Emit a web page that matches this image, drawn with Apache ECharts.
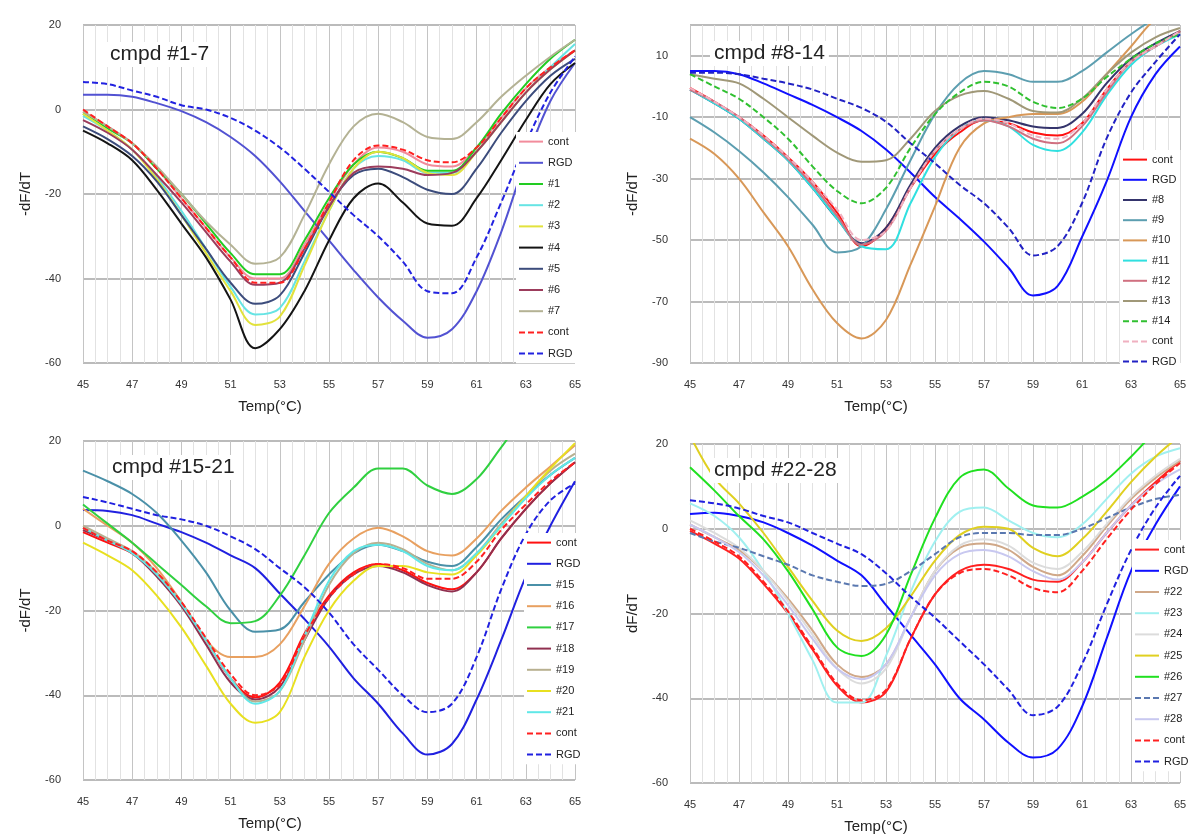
<!DOCTYPE html>
<html lang="en">
<head>
    <meta charset="utf-8">
    <title>cmpd dF/dT</title>
    <script src="https://cdn.jsdelivr.net/npm/echarts@6/dist/echarts.min.js"></script>
    <style>
        html, body { margin: 0; padding: 0; background: #fff; }
        #main { width: 1201px; height: 839px; }
    </style>
</head>
<body>
    <div id="main"></div>
    <script>
        // temperature points (deg C)
        var temps = [45, 46, 47, 48, 49, 50, 51, 52, 53, 54, 55, 56, 57, 58, 59, 60, 61, 62, 63, 64, 65];

        // panel 1 : cmpd #1-7
        var p1Cont  = [-0.5, -4, -8, -14, -21, -28, -35, -40, -40, -32, -22, -13, -9, -10, -13, -13.5, -9, -2, 5, 10, 14];
        var p1Rgd   = [3.5, 3.5, 3, 1.5, -0.4, -3, -6.5, -11, -17, -24, -31, -38, -44.5, -50, -54, -52, -43, -29, -12, 2, 11];
        var p1C1    = [-1, -4.5, -8, -14, -20, -27, -34, -39, -39, -31, -21, -13, -10, -11.5, -14.5, -14.5, -9, -1, 6, 12, 16.5];
        var p1C2    = [-1.5, -5, -9.5, -16, -24, -33, -42, -48.5, -47, -36, -24, -14, -11, -12, -15, -15, -10, -3, 4, 10, 15.5];
        var p1C3    = [-1, -5, -9.5, -16.5, -25, -34, -43, -51, -49, -37, -24, -14, -10, -11.5, -15, -15.5, -10, -3, 4, 9.5, 14];
        var p1C4    = [-5, -8, -12, -19, -27, -35, -45, -56.5, -52, -43, -31, -21, -17.5, -22, -27, -27.5, -21, -12, -2.5, 6, 11];
        var p1C5    = [-4, -7, -11, -17, -25, -33, -41, -46, -44, -34, -23, -15.5, -14, -16, -19, -20, -14, -5.5, 2, 8, 12];
        var p1C6    = [-2.5, -5.5, -9.5, -15.5, -22, -29, -36, -41.5, -41, -33, -23, -15, -13.5, -14, -15.5, -15, -10, -3, 4, 9.5, 14];
        var p1C7    = [-0.5, -4, -8, -13.5, -20, -26.5, -32, -36.5, -35, -25, -13, -4, -1, -3, -6.5, -7, -3, 3, 8, 12.5, 16.5];
        var p1ContB = [0, -4, -8, -14, -21, -28, -35, -41, -41, -33, -22, -12, -8.5, -9.5, -12, -12.5, -9, -2, 5, 10, 14];
        var p1RgdB  = [6.5, 6, 4.5, 3, 1, 0, -2, -5, -9, -14, -19.5, -25, -30, -36, -43, -43.5, -35, -22, -8, 4, 12.5];

        // panel 2 : cmpd #8-14
        var p2Cont  = [-0.5, -5, -10, -16, -23, -31, -41, -52, -46, -33, -22, -15, -11, -12, -15, -16, -12, -1, 8, 13, 18];
        var p2Rgd   = [5, 5, 4, 1, -2.5, -6, -10, -14.5, -20.5, -28, -36, -43, -50.5, -59, -68, -65, -49, -31, -10, 4, 13];
        var p2C8    = [-1, -5.5, -10.5, -17, -24, -33, -43, -51, -46, -32, -20, -13, -10, -11, -13, -13.5, -9, 1, 9, 14, 18];
        var p2C9    = [-10, -15, -21, -28, -36, -45, -54, -52, -40, -24, -9, 1, 5, 4, 1.5, 1.5, 5, 11, 17, 22, 24];
        var p2C10   = [-17, -22, -30, -41, -52, -66, -77, -82, -76, -58, -39, -20, -12, -10, -9, -9, -5, 4, 13, 22, 26];
        var p2C11   = [-1, -5.5, -10.5, -17, -24, -33, -43, -52, -53, -38, -23, -14, -11, -13, -19, -21, -15, -3, 7, 13, 17];
        var p2C12   = [-1, -5, -10, -16.5, -23.5, -32, -42, -51.5, -47, -33, -21, -14, -11, -13, -17, -18.5, -13, -2, 8, 13, 18];
        var p2C13   = [4, 2.5, 1, -4, -10, -16, -21.5, -24.5, -24, -17, -8, -3, -1.5, -4, -8, -8.5, -4, 4, 11, 16, 19];
        var p2C14   = [4, 0, -4, -10, -17, -26, -34, -38, -33, -20, -9, -2, 1.5, 0, -5, -7, -4, 3, 9, 14, 17];
        var p2ContB = [-0.5, -5, -10, -16, -23, -31, -40, -50, -47, -33, -21, -14, -10.5, -12, -16, -17, -12, -1, 8, 13, 18];
        var p2RgdB  = [4.5, 4.5, 4, 2.5, 1, -1, -4, -7, -11.5, -18.5, -25, -32, -38, -46, -55, -52, -38, -17, -2, 8, 17];

        // panel 3 : cmpd #15-21
        var p3Cont  = [-1.5, -4, -6.5, -11.5, -18.5, -27, -36, -40.5, -37, -25.5, -16.5, -11, -9, -10.5, -13.5, -15, -11, -3, 4, 10, 15];
        var p3Rgd   = [3.7, 3.5, 2.5, 0.5, -1.5, -4, -7, -10, -16, -22, -28.5, -36, -42, -49, -54, -51.5, -41, -27, -12, 0, 10.5];
        var p3C15   = [13, 10.5, 7.5, 3, -3.5, -11, -20, -25, -24.5, -18, -11.5, -6.5, -4.5, -6, -8.5, -9.5, -5, 1.5, 7, 12, 16];
        var p3C16   = [4, 0, -4, -10, -18, -27, -31, -31, -28, -19, -9, -3, -0.5, -2.5, -6, -7, -3, 3.5, 9, 14, 19];
        var p3C17   = [5, 0.5, -4, -9, -14, -19, -23, -22.5, -16.5, -7, 3, 9, 13.5, 13.5, 9.5, 7.5, 11, 18.5, 26, 30, 34];
        var p3C18   = [-1, -3.5, -6.5, -12, -19, -28, -37, -41, -38, -27, -17, -11.5, -9.5, -11, -14, -15.5, -11, -3, 4, 10, 15];
        var p3C19   = [0, -3, -6, -11, -18, -27, -36, -41.5, -39, -27, -14, -6.5, -4, -5.5, -9, -10.5, -6.5, 0.5, 7, 13, 17];
        var p3C20   = [-4, -7, -10.5, -16.5, -24, -33, -42, -46.5, -44, -31, -20, -13, -9.5, -9.5, -11, -11.5, -7, 0, 7, 13.5, 19.5];
        var p3C21   = [-0.5, -3.5, -6.5, -11.5, -18.5, -27, -36, -42, -39, -26, -13, -6, -4.5, -6, -9.5, -10.5, -6.5, 0, 6.5, 12, 16];
        var p3ContB = [-0.5, -3.5, -6, -11, -18, -26.5, -35, -40, -37.5, -26, -17, -11.5, -9, -10, -12.5, -12.5, -8.5, -1, 5, 10.5, 15];
        var p3RgdB  = [6.8, 5.5, 4, 2.5, 1.5, 0, -2.5, -5.5, -10, -14.5, -20.5, -28, -34, -40, -44, -42, -31, -15, -2, 6, 10];

        // panel 4 : cmpd #22-28
        var p4Cont  = [-0.5, -3.5, -7, -13, -20, -28.5, -37, -41, -38.5, -26, -15.5, -10, -8.5, -9.5, -12, -12.5, -8, -1, 5.5, 11, 16];
        var p4Rgd   = [3.5, 3.8, 3, 1.5, -1, -4, -7.5, -11, -18, -25, -32, -40, -45, -50.5, -54, -52, -42, -26, -10, 1, 10];
        var p4C22   = [1, -2, -5, -10, -16.5, -24, -32, -35, -32, -21, -10, -4.5, -3.5, -5, -9, -11, -6.5, 0.5, 7, 12, 16];
        var p4C23   = [6, 3, -2, -10, -20, -31, -41, -41, -30, -15, -3, 4, 5, 2, -1, -2, 1, 7, 13, 17, 19];
        var p4C24   = [2, -1, -4.5, -10, -17, -25, -33, -36.5, -33, -21, -10, -4, -2.5, -4, -8, -9.5, -5.5, 1, 7.5, 12.5, 16.5];
        var p4C25   = [22, 12, 6, -1, -9, -17, -24, -26.5, -23.5, -16, -7.5, -1.5, 0.5, 0, -4.5, -6.5, -2.5, 4, 11, 17, 22];
        var p4C26   = [14.5, 9, 3, -2.5, -10, -19, -28, -30, -25, -11, 2.5, 12, 14, 9.5, 5.5, 5, 7.5, 11.5, 17, 23, 28];
        var p4C27   = [-1, -3, -4.5, -6.5, -8.5, -11, -12.5, -13.5, -13, -10, -6, -2, -1, -1, -1.5, -1.5, 0, 2.5, 5, 7, 8];
        var p4C28   = [1, -2, -5.5, -11, -18, -26, -33, -35.5, -32, -21, -11, -6, -5, -6.5, -10, -12, -8, -1, 5.5, 10.5, 14];
        var p4ContB = [0, -3, -6.5, -12.5, -19.5, -28, -36.5, -40.5, -38, -26, -15.5, -10.5, -9.5, -11, -14, -15, -10, -2.5, 4.5, 10.5, 15.5];
        var p4RgdB  = [6.7, 6, 4.8, 3, 1.5, -1, -3.5, -6, -10.5, -16, -21, -26.5, -32, -38, -44, -42, -32, -18, -5, 5, 12.5];

        var panels = [
            { title: 'cmpd #1-7', yName: '-dF/dT', yMin: -60, yMax: 20, lines: [
                ['cont', p1Cont, '#f28c9c', 0], ['RGD', p1Rgd, '#5252d2', 0],
                ['#1', p1C1, '#22cc22', 0], ['#2', p1C2, '#66e4e4', 0],
                ['#3', p1C3, '#e2e23c', 0], ['#4', p1C4, '#141414', 0],
                ['#5', p1C5, '#3c4c7c', 0], ['#6', p1C6, '#9c3c5c', 0],
                ['#7', p1C7, '#b4b294', 0], ['cont', p1ContB, '#ff2020', 1],
                ['RGD', p1RgdB, '#2222e0', 1]] },
            { title: 'cmpd #8-14', yName: '-dF/dT', yMin: -90, yMax: 20, lines: [
                ['cont', p2Cont, '#ff1010', 0], ['RGD', p2Rgd, '#1010ff', 0],
                ['#8', p2C8, '#34346c', 0], ['#9', p2C9, '#5c9eb0', 0],
                ['#10', p2C10, '#d89858', 0], ['#11', p2C11, '#30e0e0', 0],
                ['#12', p2C12, '#d07080', 0], ['#13', p2C13, '#a09878', 0],
                ['#14', p2C14, '#30c030', 1], ['cont', p2ContB, '#f0b0c0', 1],
                ['RGD', p2RgdB, '#2222c4', 1]] },
            { title: 'cmpd #15-21', yName: '-dF/dT', yMin: -60, yMax: 20, lines: [
                ['cont', p3Cont, '#ff1010', 0], ['RGD', p3Rgd, '#2020e0', 0],
                ['#15', p3C15, '#4a90a8', 0], ['#16', p3C16, '#e8a060', 0],
                ['#17', p3C17, '#30d040', 0], ['#18', p3C18, '#903050', 0],
                ['#19', p3C19, '#b8b090', 0], ['#20', p3C20, '#e8e020', 0],
                ['#21', p3C21, '#60e8e8', 0], ['cont', p3ContB, '#ff2020', 1],
                ['RGD', p3RgdB, '#2020e0', 1]] },
            { title: 'cmpd #22-28', yName: 'dF/dT', yMin: -60, yMax: 20, lines: [
                ['cont', p4Cont, '#ff2020', 0], ['RGD', p4Rgd, '#1010ff', 0],
                ['#22', p4C22, '#d0a888', 0], ['#23', p4C23, '#a0f0f0', 0],
                ['#24', p4C24, '#dcdcdc', 0], ['#25', p4C25, '#e0d020', 0],
                ['#26', p4C26, '#20e020', 0], ['#27', p4C27, '#5a78b0', 1],
                ['#28', p4C28, '#c8c8f0', 0], ['cont', p4ContB, '#ff2020', 1],
                ['RGD', p4RgdB, '#2020e0', 1]] }
        ];

        // layout of the four plot areas
        var boxes = [
            { left: 83, top: 25, width: 492, height: 338, legX: 516, legY: 132, gap: 7, titleX: 106, titleY: 42 },
            { left: 690, top: 25, width: 490, height: 338, legX: 1120, legY: 150, gap: 6, titleX: 710, titleY: 41 },
            { left: 83, top: 441, width: 492, height: 339, legX: 524, legY: 533, gap: 7, titleX: 108, titleY: 455 },
            { left: 690, top: 444, width: 490, height: 339, legX: 1132, legY: 540, gap: 7, titleX: 710, titleY: 458 }
        ];

        var font = 'Liberation Sans, Arial, sans-serif';
        var grids = [], xAxes = [], yAxes = [], series = [], legends = [], titles = [];

        panels.forEach(function (p, k) {
            var b = boxes[k];
            grids.push({ left: b.left, top: b.top, width: b.width, height: b.height });
            xAxes.push({
                type: 'value', gridIndex: k, min: 45, max: 65, interval: 2,
                name: 'Temp(\u00b0C)', nameLocation: 'middle', nameGap: 36,
                nameTextStyle: { fontFamily: font, fontSize: 15, color: '#222', padding: [0, 118, 0, 0] },
                axisLine: { show: false, onZero: false },
                axisTick: { show: false },
                axisLabel: { fontFamily: font, fontSize: 11, color: '#333', margin: 16 },
                splitLine: { show: true, lineStyle: { color: '#c4c4c4' } },
                minorTick: { show: false, splitNumber: 4 },
                minorSplitLine: { show: true, lineStyle: { color: '#e2e2e2' } }
            });
            // ticks counted from min every 20 (panel 2 starts at -90)
            yAxes.push({
                type: 'value', gridIndex: k, min: p.yMin, max: p.yMax, interval: 20,
                name: p.yName, nameLocation: 'middle', nameGap: 50, nameRotate: 90,
                nameTextStyle: { fontFamily: font, fontSize: 15, color: '#222' },
                axisLine: { show: false, onZero: false },
                axisTick: { show: false },
                axisLabel: {
                    fontFamily: font, fontSize: 11, color: '#333', margin: 22,
                    formatter: function (v) {
                        return Math.round(v - p.yMin) % 20 === 0 ? String(v) : '';
                    }
                },
                splitLine: { show: true, lineStyle: { color: '#a4a4a4', width: 1.5 } }
            });
            var names = [];
            p.lines.forEach(function (l, j) {
                var id = l[0] + '@' + k + '_' + j;
                names.push(id);
                series.push({
                    name: id, type: 'line', xAxisIndex: k, yAxisIndex: k,
                    data: temps.map(function (t, i) { return [t, l[1][i]]; }),
                    smooth: 0.35, symbol: 'none', clip: true,
                    lineStyle: { color: l[2], width: 2, type: l[3] ? [6, 3] : 'solid' },
                    itemStyle: { color: l[2] }
                });
            });
            legends.push({
                data: names, orient: 'vertical', left: b.legX, top: b.legY,
                itemWidth: 24, itemHeight: 14, itemGap: b.gap + 3,
                backgroundColor: '#fff', padding: [4, 4, 4, 2],
                itemStyle: { color: 'rgba(0,0,0,0)', borderColor: 'rgba(0,0,0,0)', borderWidth: 0 },
                textStyle: { fontFamily: font, fontSize: 11, color: '#222' },
                formatter: function (n) { return n.split('@')[0]; }
            });
            titles.push({
                text: p.title, left: b.titleX, top: b.titleY,
                backgroundColor: '#fff', padding: [2, 4],
                textStyle: { fontFamily: font, fontSize: 21, fontWeight: 'normal', color: '#222' }
            });
        });

        var myChart = echarts.init(document.getElementById('main'), null, { renderer: 'canvas' });
        myChart.setOption({
            animation: false,
            backgroundColor: '#fff',
            title: titles,
            legend: legends,
            grid: grids,
            xAxis: xAxes,
            yAxis: yAxes,
            series: series
        });
        window.onresize = myChart.resize;
    </script>
</body>
</html>
